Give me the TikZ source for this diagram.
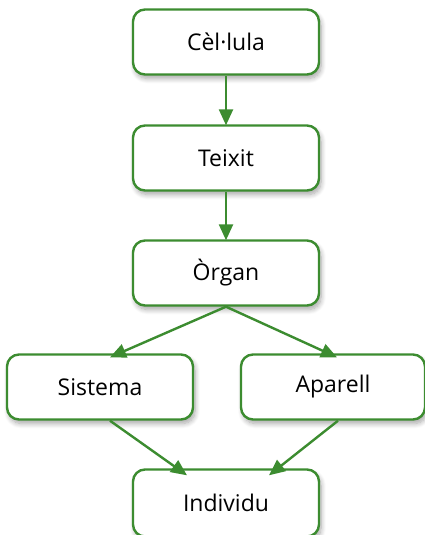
\documentclass[tikz,border=0pt]{standalone}
\usepackage{fontspec}
\setmainfont{Open Sans}
\usetikzlibrary{arrows.meta,shadows.blur}
\definecolor{boxgreen}{HTML}{3C8C30}
\tikzset{
  x=1pt,y=-1pt,
  box/.style={draw=boxgreen, line width=2.4pt, rounded corners=12pt, fill=white,
    minimum width=186pt, minimum height=65pt, inner sep=0pt,
    font=\fontsize{23}{27}\selectfont,
    blur shadow={shadow xshift=2pt, shadow yshift=-4pt, shadow blur steps=8, shadow opacity=35, shadow blur radius=5pt}},
  link/.style={draw=boxgreen, line width=2.4pt, -{Triangle[length=16pt,width=14pt]}}
}
\begin{document}
\begin{tikzpicture}
\useasboundingbox (0,0) rectangle (425,535);
\clip (0,0) rectangle (425,535);
\node[box] (cel) at (226,42) {Cèl·lula};
\node[box] (tei) at (226,158) {Teixit};
\node[box] (org) at (226,273) {Òrgan};
\node[box] (sis) at (100,387) {Sistema};
\node[box, minimum width=184pt] (apa) at (333,387) {Aparell};
\node[box, minimum height=67pt] (ind) at (226,503) {Individu};
\draw[link] (cel.south) -- ([yshift=-1pt]tei.north);
\draw[link] (tei.south) -- ([yshift=-1pt]org.north);
\draw[link] (org.south) -- ([xshift=10pt,yshift=-4pt]sis.north);
\draw[link] (org.south) -- ([xshift=4pt,yshift=-4pt]apa.north);
\draw[link] ([xshift=10pt]sis.south) -- ([xshift=-39pt,yshift=-7pt]ind.north);
\draw[link] ([xshift=5pt]apa.south) -- ([xshift=43pt,yshift=-7pt]ind.north);
\end{tikzpicture}
\end{document}
